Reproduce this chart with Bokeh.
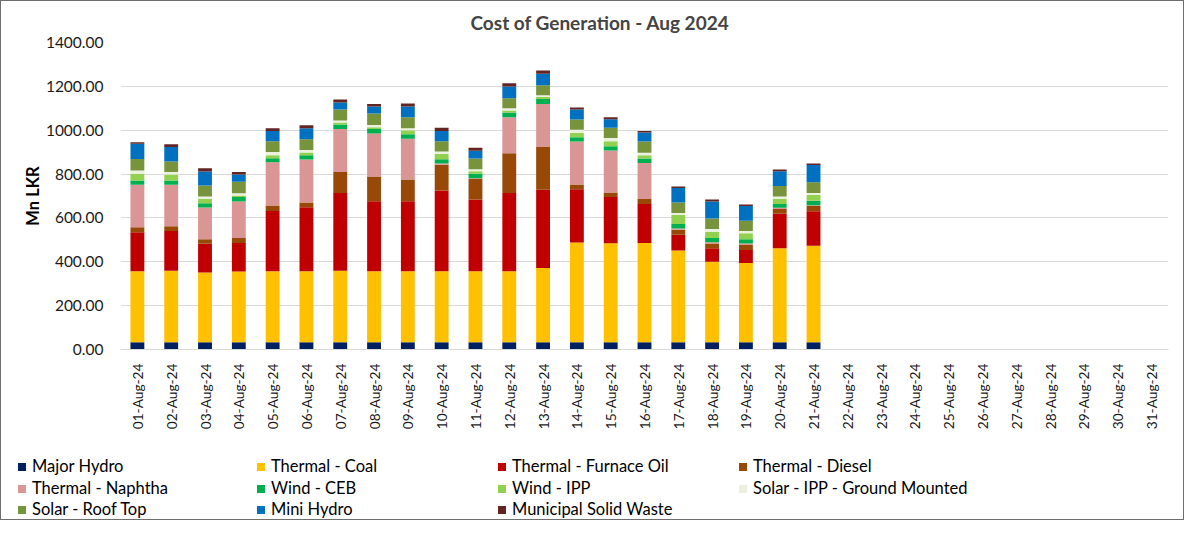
import math
from bokeh.plotting import figure
from bokeh.layouts import column
from bokeh.models import (FactorRange, Range1d, FixedTicker, NumeralTickFormatter,
                          ColumnDataSource, Div)
from bokeh.embed import file_html
from bokeh.resources import INLINE

dates = ["01-Aug-24", "02-Aug-24", "03-Aug-24", "04-Aug-24", "05-Aug-24", "06-Aug-24",
         "07-Aug-24", "08-Aug-24", "09-Aug-24", "10-Aug-24", "11-Aug-24", "12-Aug-24",
         "13-Aug-24", "14-Aug-24", "15-Aug-24", "16-Aug-24", "17-Aug-24", "18-Aug-24",
         "19-Aug-24", "20-Aug-24", "21-Aug-24", "22-Aug-24", "23-Aug-24", "24-Aug-24",
         "25-Aug-24", "26-Aug-24", "27-Aug-24", "28-Aug-24", "29-Aug-24", "30-Aug-24",
         "31-Aug-24"]

# Mn LKR, 01-Aug .. 21-Aug (no data afterwards)
major_hydro = [33, 33, 33, 33, 33, 33, 33, 33, 33, 33, 33, 33, 33, 33, 33, 33, 33, 33, 33, 33, 33]
thermal_coal = [324, 326, 318, 323, 324, 324, 326, 324, 324, 324, 324, 324, 339, 455, 452, 453, 418, 367, 361, 429, 440]
thermal_fo = [178, 181, 131, 130, 275, 292, 355, 319, 319, 368, 327, 357, 356, 243, 210, 177, 72, 62, 60, 157, 158]
thermal_diesel = [23, 22, 21, 22, 25, 21, 95, 113, 99, 117, 93, 181, 195, 21, 21, 23, 23, 21, 23, 22, 23]
thermal_naphtha = [193, 189, 145, 167, 197, 196, 196, 196, 186, 6, 4, 164, 197, 196, 191, 164, 6, 6, 6, 5, 4]
wind_ceb = [20, 20, 19, 20, 18, 20, 21, 20, 21, 20, 20, 22, 22, 20, 20, 21, 20, 20, 20, 18, 20]
wind_ipp = [30, 27, 19, 7, 14, 12, 9, 9, 18, 23, 12, 9, 9, 20, 23, 15, 41, 28, 27, 22, 26]
solar_ipp_gm = [15, 11, 12, 11, 15, 12, 9, 10, 9, 12, 9, 10, 9, 14, 14, 11, 9, 12, 10, 12, 10]
solar_roof = [53, 48, 50, 52, 49, 49, 50, 52, 50, 47, 49, 46, 45, 47, 47, 51, 48, 48, 47, 48, 49]
mini_hydro = [69, 67, 64, 33, 46, 50, 32, 32, 49, 46, 35, 53, 52, 45, 39, 42, 66, 78, 67, 67, 78]
msw = [7, 12, 15, 12, 13, 14, 14, 12, 14, 15, 14, 15, 15, 10, 9, 6, 7, 9, 7, 8, 7]

series_names = ["Major Hydro", "Thermal - Coal", "Thermal - Furnace Oil", "Thermal - Diesel",
                "Thermal - Naphtha", "Wind - CEB", "Wind - IPP", "Solar - IPP - Ground Mounted",
                "Solar - Roof Top", "Mini Hydro", "Municipal Solid Waste"]
series_values = [major_hydro, thermal_coal, thermal_fo, thermal_diesel, thermal_naphtha,
                 wind_ceb, wind_ipp, solar_ipp_gm, solar_roof, mini_hydro, msw]
colors = ["#002060", "#FFC000", "#C00000", "#984807", "#DA9694", "#00B050",
          "#92D050", "#EBF1DE", "#77933C", "#0070C0", "#632523"]

FONT = "Lato"

data = {"date": dates}
keys = []
for i, vals in enumerate(series_values):
    k = f"s{i}"
    keys.append(k)
    data[k] = list(vals) + [0] * (len(dates) - len(vals))
source = ColumnDataSource(data)

# ---------------- main chart ----------------
p = figure(width=1182, height=434, x_range=FactorRange(*dates), y_range=Range1d(0, 1400),
           output_backend="svg", toolbar_location=None,
           min_border_left=119, min_border_right=15, min_border_top=41, min_border_bottom=86)
p.outline_line_color = None

p.vbar_stack(keys, x="date", width=0.41, color=colors, line_color=None, source=source)

p.title.text = "Cost of Generation - Aug 2024"
p.title.text_font = FONT
p.title.text_font_style = "bold"
p.title.text_font_size = "19px"
p.title.align = "left"
p.title.offset = 350
p.title.standoff = 16
p.title.vertical_align = "middle"

p.yaxis.ticker = FixedTicker(ticks=[0, 200, 400, 600, 800, 1000, 1200, 1400])
p.yaxis.formatter = NumeralTickFormatter(format="0.00")
p.yaxis.axis_line_color = None
p.yaxis.major_tick_line_color = None
p.yaxis.minor_tick_line_color = None
p.yaxis.major_tick_out = 0
p.yaxis.major_tick_in = 0
p.yaxis.major_label_standoff = 17
p.yaxis.major_label_text_font = FONT
p.yaxis.major_label_text_font_size = "15.5px"
p.yaxis.major_label_text_color = "#1a1a1a"
p.yaxis.axis_label = "Mn LKR"
p.yaxis.axis_label_text_font = FONT
p.yaxis.axis_label_text_font_style = "bold"
p.yaxis.axis_label_text_font_size = "16.5px"
p.yaxis.axis_label_text_color = "#000000"
p.yaxis.axis_label_standoff = 0

p.xaxis.major_label_orientation = math.pi / 2
p.xaxis.axis_line_color = "#d9d9d9"
p.xaxis.major_tick_line_color = None
p.xaxis.minor_tick_line_color = None
p.xaxis.major_tick_out = 0
p.xaxis.major_tick_in = 0
p.xaxis.major_label_standoff = 14
p.xaxis.major_label_text_font = FONT
p.xaxis.major_label_text_font_size = "13.7px"
p.xaxis.major_label_text_color = "#1a1a1a"

p.xgrid.grid_line_color = None
p.ygrid.grid_line_color = "#d9d9d9"
p.ygrid.grid_line_width = 1

# ---------------- legend strip (4 columns, row-major like the source) ----------------
col_left = [17, 256, 497, 738]
row_top = [21, 43, 64]
entries = []
for i, (name, col) in enumerate(zip(series_names, colors)):
    r, c = divmod(i, 4)
    entries.append(
        f'<div style="position:absolute;left:{col_left[c]}px;top:{row_top[r]}px;'
        f'height:20px;line-height:20px;white-space:nowrap;">'
        f'<span style="display:inline-block;width:8px;height:8px;background:{col};'
        f'margin-right:6px;vertical-align:middle;position:relative;top:-1px;"></span>'
        f'{name}</div>'
    )
legend_html = (
    f'<div style="position:relative;width:1182px;height:84px;font-family:{FONT};'
    f'font-size:16.5px;color:#000000;">' + "".join(entries) + "</div>"
)
legend_div = Div(text=legend_html, width=1182, height=84, margin=0)

layout = column(p, legend_div, spacing=0, styles={"border": "1px solid #6e6e6e"})

open("out.html", "w").write(file_html(layout, INLINE))
